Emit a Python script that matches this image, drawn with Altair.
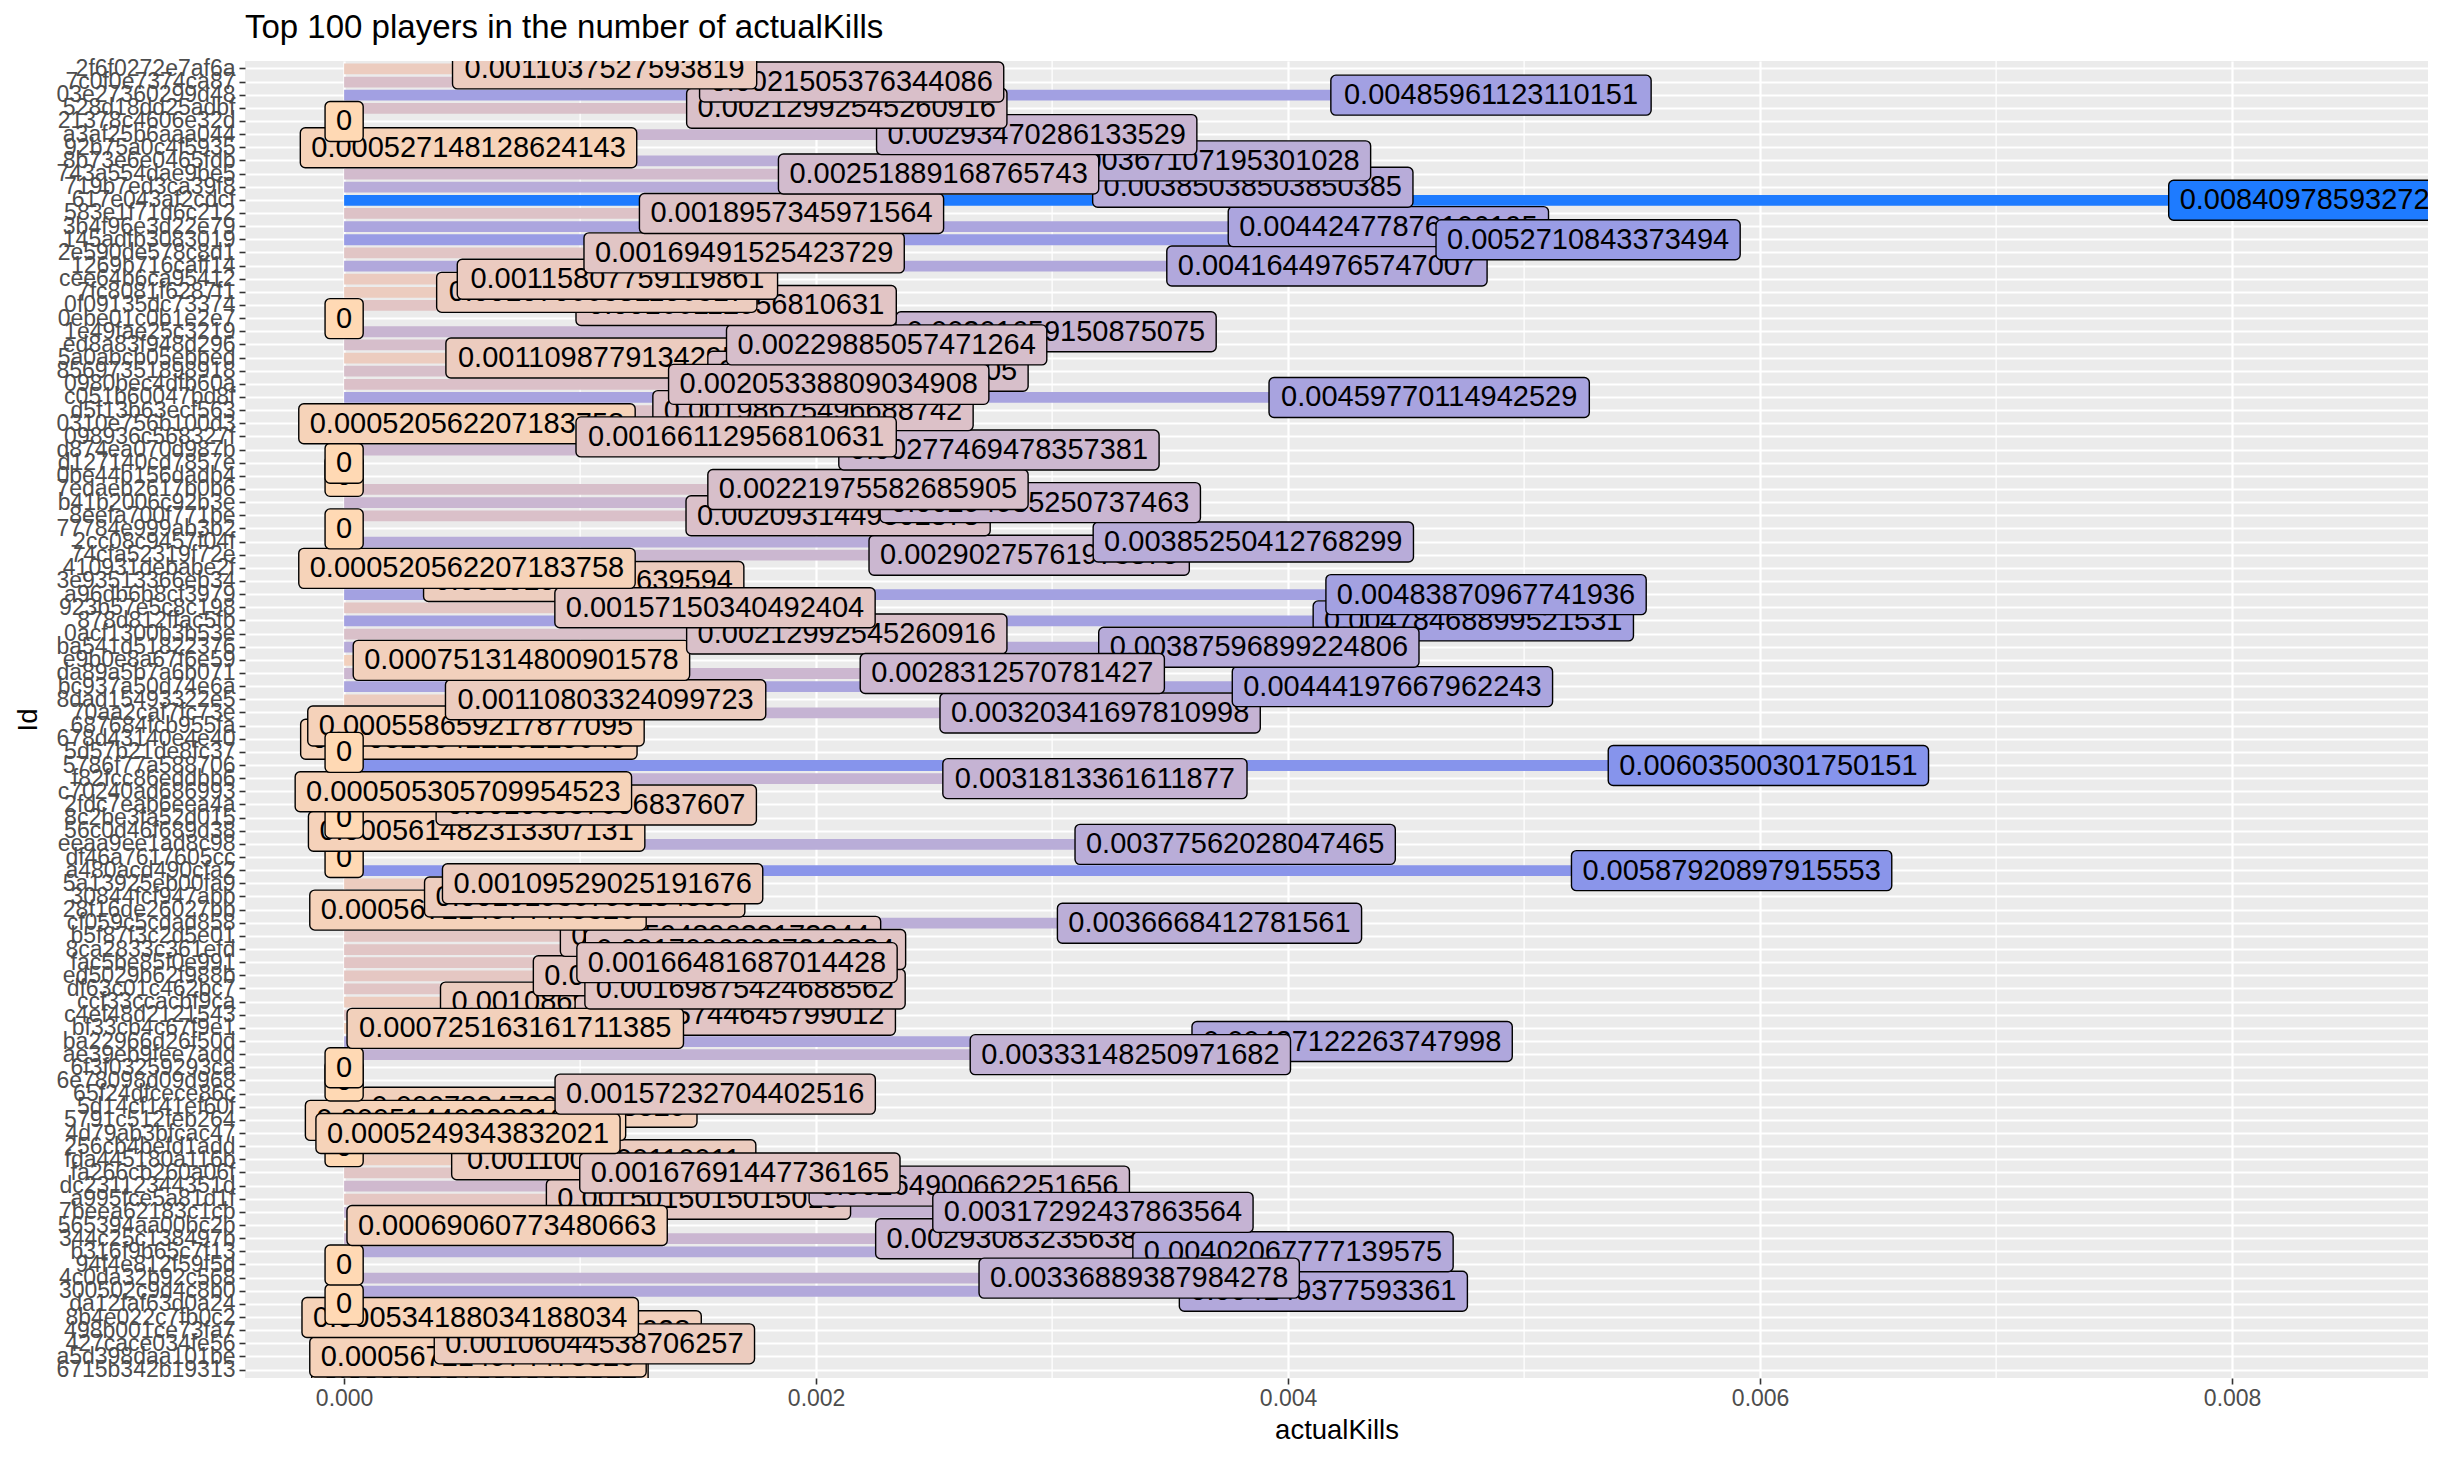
import heapq
import altair as alt
import pandas as pd

ids = [
    "2f6f0272e7af6a", "7c0f0e7374ca87", "03e27360299d48", "528d18dd25adbf", "21378c4606e32d",
    "a3af25b6aaa044", "92b75a0c4f5935", "8b73e6e0465fdb", "743a554dae9be5", "719b7ed3ca39f8",
    "617e043af2cdcf", "583e1f71d6c212", "3b4f96e3d22e79", "145adfb3083019", "2e590de578c8d1",
    "1269b716caff14", "cee64b6ca95412", "7fc8081f6287f1", "0f09135dc73374", "0ebe01c0b1e2e7",
    "1e49fae25c3219", "ed8a83f948d296", "5a0abcb05ebbed", "85697351898918", "0980bec4dfb60a",
    "c051b60047bd8f", "d5f13b63ecf563", "0310e756b100d3", "098936c568327f", "d874ea070d987b",
    "d127140cd7857e", "0be44b156dadb4", "7edaeb2617b0b6", "b41b2006c92b3e", "8eefa700f771be",
    "77784e999ab3b2", "2cc08c9457f04f", "74cfa52319f72e", "410931debabe2f", "3e93513366eb34",
    "a96db6b8cf3979", "923b57e5c8c198", "878d812ffac5fb", "0acf1300b3b53e", "ba541d51822376",
    "e9b0e8a67f6e59", "da89a5b7a6b071", "bc937a50d74e6a", "8dad15493322e5", "70aa2caf7fc73e",
    "687684fcb955fa", "678d43140e4e40", "5d57b21de8fc37", "5786f77a588706", "f82fcc86eddbb6",
    "c70240ad686993", "2fdc7eab6eea4a", "8c2be3fa52d015", "56c0d46f689d38", "eeaa9ee1ad8c98",
    "df46a7617605cc", "a480acd490cfa2", "5a13925eb00fa9", "30844fcf947abb", "28f16de26027bb",
    "cf059c5cdad858", "b5f87f3c2d5e01", "8ca2833c361efd", "fac5be85f0e991", "ed5029b62f988b",
    "df63c01c462bc7", "ccf33ccacbf9ca", "c4ef48d2121543", "bf33cb4c67f9e1", "ba22966d26f50d",
    "ae39eb9fee7add", "6f3f03259293ca", "6e78098d09d968", "65f24dfcece86c", "5d14cf141ef60f",
    "5791c512feb264", "4d79ab3bfcac47", "256cb4befd1add", "fda445180a116b", "fa266cb260a06f",
    "dc23112344351d", "a995fce5a81d1f", "7beea62183c1cb", "565394aa00bc2b", "344c25c138497b",
    "b316f9b65c7f13", "94f4e812f59f5d", "4c0da32b92c568", "300502c9d4c8b0", "da12faf63d0a24",
    "8b4e022c7fb0c2", "498b001ce73fa7", "427cace034fe56", "a5d398daa101be", "6715b342b19313",
]

kills = [
    0.0011037527593819, 0.0021505376344086, 0.00485961123110151, 0.00212992545260916, 0,
    0.00293470286133529, 0.000527148128624143, 0.00367107195301028, 0.00251889168765743, 0.00385038503850385,
    0.00840978593272171, 0.0018957345971564, 0.00442477876106195, 0.0052710843373494, 0.00169491525423729,
    0.00416449765747007, 0.00115807759119861, 0.00107066381156317, 0.00166112956810631, 0,
    0.00301659150875075, 0.00229885057471264, 0.00110987791342952, 0.00221975582685905, 0.00205338809034908,
    0.00459770114942529, 0.00198675496688742, 0.000520562207183758, 0.00166112956810631, 0.00277469478357381,
    0, 0, 0.00221975582685905, 0.00294985250737463, 0.0020931449502878,
    0, 0.00385250412768299, 0.00290275761973875, 0.000520562207183758, 0.00101522842639594,
    0.00483870967741936, 0.00157150340492404, 0.00478468899521531, 0.00212992545260916, 0.00387596899224806,
    0.000751314800901578, 0.0028312570781427, 0.00444197667962243, 0.00110803324099723, 0.00320341697810998,
    0.000558659217877095, 0.000528541226215645, 0, 0.00603500301750151, 0.0031813361611877,
    0.000505305709954523, 0.00106837606837607, 0, 0.000561482313307131, 0.00377562028047465,
    0, 0.00587920897915553, 0.00109529025191676, 0.00101936799184506, 0.000567214974475326,
    0.0036668412781561, 0.00159489633173844, 0.00170068027210884, 0.00166481687014428, 0.00148038490007402,
    0.00169875424688562, 0.00108695652173913, 0.00165744645799012, 0.000725163161711385, 0.00427122263747998,
    0.00333148250971682, 0, 0, 0.00157232704402516, 0.000782472613458529,
    0.00051440329218107, 0.0005249343832021, 0, 0.0011001100110011, 0.00167691447736165,
    0.00264900662251656, 0.0015015015015015, 0.00317292437863564, 0.00069060773480663, 0.00293083235638921,
    0.00402067777139575, 0, 0.00336889387984278, 0.004149377593361, 0,
    0.000534188034188034, 0.000800640512409928, 0.00106044538706257, 0.000567214974475326, 0.000575373993095512,
]

x_ticks = [0.0, 0.002, 0.004, 0.006, 0.008]
x_minor = [0.001, 0.003, 0.005, 0.007]

# which label is drawn on top of which (row numbers, 1 = top row)
over_pairs = [
    (1, 2), (4, 6), (5, 7), (9, 8), (9, 10), (14, 13), (14, 16), (17, 18), (18, 19),
    (22, 21), (24, 23), (25, 24), (25, 27), (29, 27), (29, 28), (29, 30), (33, 34),
    (33, 35), (34, 35), (37, 38), (39, 40), (42, 40), (41, 43), (42, 44), (45, 43),
    (47, 45), (48, 50), (49, 51), (51, 52), (53, 51), (53, 52), (56, 57), (56, 58),
    (58, 59), (63, 64), (64, 65), (68, 67), (69, 68), (69, 70), (71, 70), (73, 72),
    (74, 72), (74, 73), (76, 75), (79, 80), (81, 80), (82, 81), (82, 80), (85, 84),
    (85, 86), (85, 87), (88, 86), (89, 87), (88, 90), (91, 90), (93, 91), (93, 94),
    (95, 96), (96, 97), (98, 97), (99, 97), (98, 99), (98, 100), (99, 100),
]

rows = list(range(1, len(ids) + 1))
df = pd.DataFrame({"Id": ids, "actualKills": kills, "row": rows})

# drawing order of the labels
succ = {r: [] for r in rows}
indeg = {r: 0 for r in rows}
for o, u in over_pairs:
    succ[u].append(o)
    indeg[o] += 1
heap = [(-r, r) for r in rows if indeg[r] == 0]
heapq.heapify(heap)
draw_order = []
while heap:
    _, r = heapq.heappop(heap)
    draw_order.append(r)
    for o in succ[r]:
        indeg[o] -= 1
        if indeg[o] == 0:
            heapq.heappush(heap, (-o, o))

W, H = 2183, 1317
XDOM = [-0.00042, 0.00883]
PXU = W / (XDOM[1] - XDOM[0])
FS = 29
PAD = 11
FONT = "Liberation Sans"

x_scale = alt.Scale(domain=XDOM, nice=False, zero=False)
y_scale = alt.Scale(domain=ids, paddingInner=0.18, paddingOuter=0.19)
c_scale = alt.Scale(domain=[0, max(kills)], range=["#FFD9B4", "#1E7BFF"], interpolate="lab")

x_axis = alt.Axis(
    values=x_ticks, format=".3f", grid=True, gridColor="white", gridWidth=2.2,
    domain=False, ticks=True, tickColor="#333333", tickSize=6, tickWidth=1.6,
    labelFontSize=23, labelColor="#4D4D4D", labelFont=FONT, labelPadding=3,
    title="actualKills", titleFontSize=27.5, titleFont=FONT, titleFontWeight="normal",
    titleColor="black", titlePadding=6,
)
y_axis = alt.Axis(
    grid=True, gridColor="white", gridWidth=2.2, bandPosition=0.5,
    domain=False, ticks=True, tickColor="#333333", tickSize=6, tickWidth=1.6,
    labelFontSize=23, labelColor="#4D4D4D", labelFont=FONT, labelPadding=4,
    labelOverlap=False, labelLimit=0,
    title="Id", titleFontSize=27.5, titleFont=FONT, titleFontWeight="normal",
    titleColor="black", titleX=-217, titleY=H / 2, titleAngle=270,
    titleAlign="center", titleBaseline="middle",
)

minor = alt.Chart(pd.DataFrame({"v": x_minor})).mark_rule(
    color="white", strokeWidth=1.2
).encode(x=alt.X("v:Q", scale=x_scale, axis=x_axis))

bars = alt.Chart().mark_bar().encode(
    x=alt.X("actualKills:Q", scale=x_scale, axis=x_axis),
    x2=alt.datum(0),
    y=alt.Y("Id:N", scale=y_scale, sort=ids, axis=y_axis),
    color=alt.Color("actualKills:Q", scale=c_scale, legend=None),
)

label_layers = []
for r in draw_order:
    box = alt.Chart().mark_bar(
        size=40, cornerRadius=5, stroke="black", strokeWidth=1.4, clip=True
    ).encode(
        x=alt.X("lo:Q", scale=x_scale, axis=x_axis),
        x2="hi:Q",
        y=alt.Y("Id:N", scale=y_scale, sort=ids, axis=y_axis),
        color=alt.Color("actualKills:Q", scale=c_scale, legend=None),
    ).transform_filter(alt.datum.row == r)
    txt = alt.Chart().mark_text(
        fontSize=FS, font=FONT, align="center", baseline="middle", color="black", clip=True
    ).encode(
        x=alt.X("actualKills:Q", scale=x_scale, axis=x_axis),
        y=alt.Y("Id:N", scale=y_scale, sort=ids, axis=y_axis),
        text="label:N",
    ).transform_filter(alt.datum.row == r)
    label_layers += [box, txt]

chart = alt.layer(minor, bars, *label_layers, data=df).transform_calculate(
    label="format(datum.actualKills, '.15~g')",
).transform_calculate(
    wpx=f"(length(datum.label) - (indexof(datum.label, '.') >= 0 ? 0.5 : 0)) * 0.556 * {FS} + {2 * PAD}",
).transform_calculate(
    lo=f"datum.actualKills - datum.wpx / 2 / {PXU}",
    hi=f"datum.actualKills + datum.wpx / 2 / {PXU}",
).properties(
    width=W, height=H,
    title=alt.TitleParams(
        "Top 100 players in the number of actualKills", anchor="start", frame="group",
        fontSize=33, font=FONT, fontWeight="normal", color="black", offset=12,
    ),
    autosize=alt.AutoSizeParams(type="none"),
    padding={"left": 245, "top": 61, "right": 16, "bottom": 86},
).configure_view(fill="#EBEBEB", stroke=None)

chart.save("out.html", embed_options={"renderer": "svg", "actions": False})
